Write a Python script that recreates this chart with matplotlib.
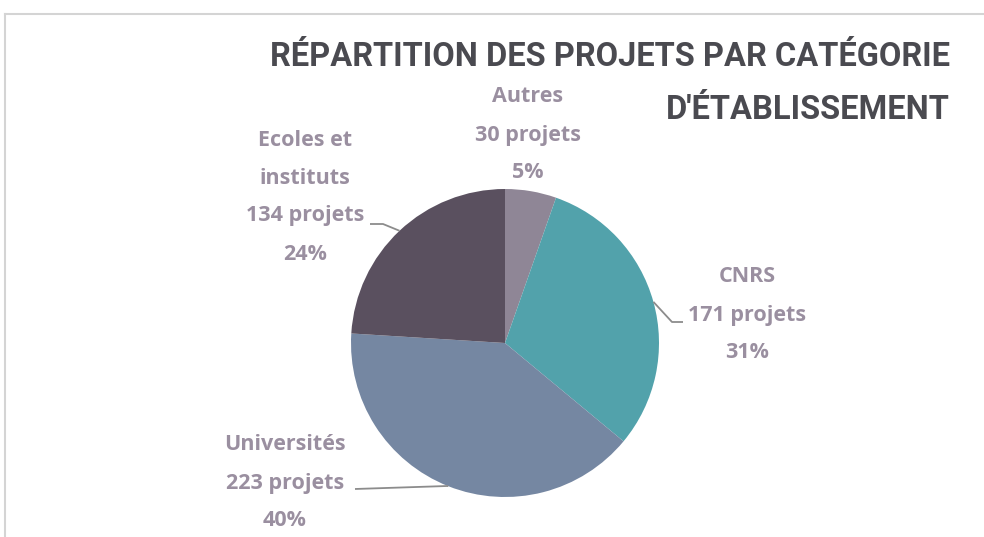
import numpy as np
import matplotlib
matplotlib.use('Agg')
import matplotlib.pyplot as plt
from matplotlib.lines import Line2D

###### donnees ######
categories = ['Autres', 'CNRS', 'Universités', 'Ecoles et\ninstituts']
projets = [30, 171, 223, 134]
couleurs = ['#8f8696', '#52a2ab', '#7587a2', '#5a505f']

titre1 = "RÉPARTITION DES PROJETS PAR CATÉGORIE"
titre2 = "D'ÉTABLISSEMENT"

###### mise en page (pixels, origine en haut a gauche) ######
W, H = 984, 537
centre = (505, 343)
rayon = 154
# position du centre de la premiere ligne de chaque etiquette
pos_etiq = [(528, 97), (747, 277), (285, 445), (305, 140)]
interligne = 38
# coude et fin de la ligne de rappel (None = pas de ligne)
rappels = [None, [(672, 322), (683, 322)], [(447, 486), (355, 489)],
           [(383, 224), (370, 224)]]

couleur_txt = '#9a8fa0'
couleur_titre = '#4a4a50'

fig = plt.figure(figsize=(W / 100, H / 100), dpi=100)
ax = fig.add_axes([0, 0, 1, 1])

def py(y):
    return H - y

wedges, _ = ax.pie(projets, colors=couleurs, startangle=90, counterclock=False,
                   center=(centre[0], py(centre[1])), radius=rayon,
                   wedgeprops=dict(linewidth=0), frame=True)
ax.set_xlim(0, W)
ax.set_ylim(0, H)
ax.set_aspect('equal')
ax.axis('off')

total = sum(projets)
for i, (cat, n) in enumerate(zip(categories, projets)):
    lignes = cat.split('\n') + ['%d projets' % n, '%d%%' % round(100 * n / total)]
    x0, y0 = pos_etiq[i]
    for k, l in enumerate(lignes):
        ax.text(x0, py(y0 + k * interligne), l, ha='center', va='center',
                fontsize=15.5, fontweight='bold', color=couleur_txt,
                family=['Open Sans', 'DejaVu Sans'])
    if rappels[i] is not None:
        w = wedges[i]
        a = np.deg2rad((w.theta1 + w.theta2) / 2)
        xe = centre[0] + rayon * np.cos(a)
        ye = centre[1] - rayon * np.sin(a)
        pts = [(xe, ye)] + rappels[i]
        ax.plot([p[0] for p in pts], [py(p[1]) for p in pts], color='#8c8c8c',
                lw=1.3, solid_capstyle='butt')

for t, y in [(titre1, 57), (titre2, 110)]:
    ax.text(950, py(y), t, ha='right', va='center', fontsize=23.5,
            fontweight='bold', color=couleur_titre,
            family=['Roboto', 'DejaVu Sans'])

# cadre
fig.add_artist(Line2D([5 / W, 1], [1 - 14 / H, 1 - 14 / H], color='#d4d4d4', lw=1.5))
fig.add_artist(Line2D([5 / W, 5 / W], [0, 1 - 14 / H], color='#d4d4d4', lw=1.5))

fig.savefig('out.png', dpi=100, facecolor='white')
